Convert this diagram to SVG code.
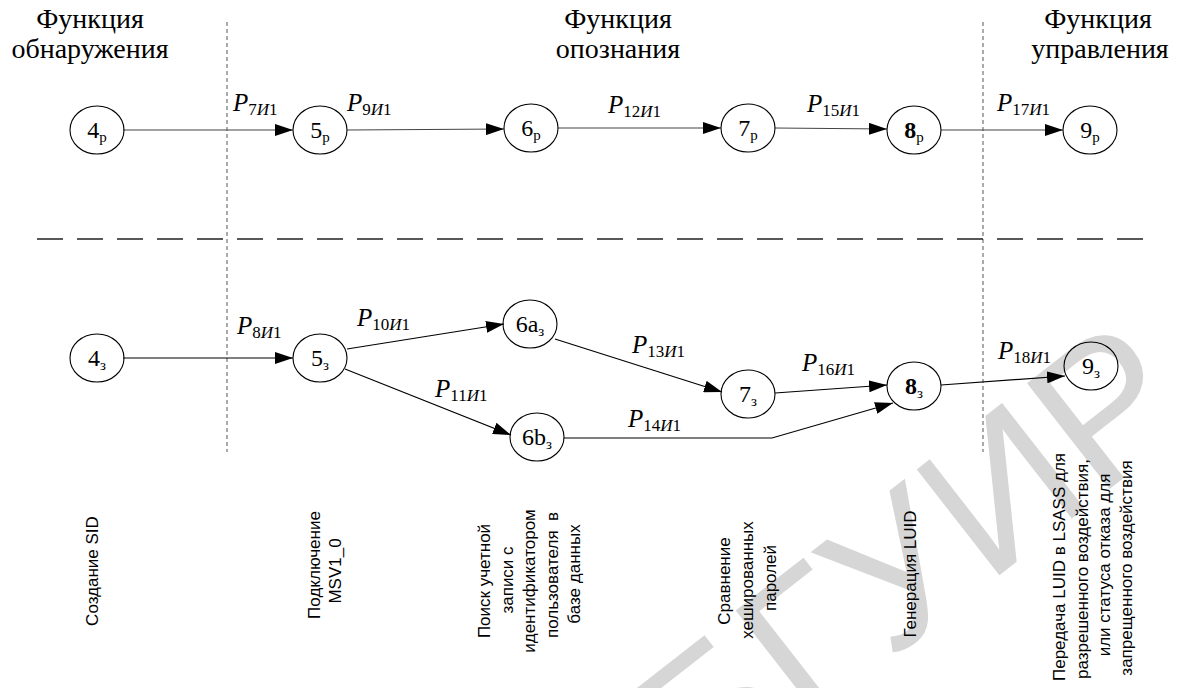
<svg xmlns="http://www.w3.org/2000/svg" width="1183" height="688" viewBox="0 0 1183 688">
  <style>
    .hdr { font-family: "Liberation Serif", "Times New Roman", serif; font-size: 28px; text-anchor: middle; fill: #000; }
    .node { fill: none; stroke: #000; stroke-width: 1.1; }
    .nlbl { font-family: "Liberation Serif", "Times New Roman", serif; font-size: 24px; text-anchor: middle; fill: #000; }
    .nsub { font-size: 15px; }
    .edge { fill: none; stroke: #000; stroke-width: 1.2; marker-end: url(#arr); }
    .edge.top { stroke: #444; }
    .plbl { font-family: "Liberation Serif", "Times New Roman", serif; font-size: 25px; fill: #000; }
    .plbl .p { font-style: italic; }
    .plbl .s { font-size: 17px; }
    .plbl .i { font-style: italic; }
    .vdash { stroke: #555; stroke-width: 1; stroke-dasharray: 4 3; }
    .hdash { stroke: #222; stroke-width: 1.5; stroke-dasharray: 26 14; }
    .step { font-family: "Liberation Sans", Arial, sans-serif; font-size: 17px; text-anchor: middle; fill: #000; }
    .wm { font-family: "Liberation Sans", Arial, sans-serif; font-size: 195px; fill: #d6d6d6; }
  </style>
  <defs>
    <marker id="arr" markerUnits="userSpaceOnUse" markerWidth="18" markerHeight="12" refX="18" refY="6" orient="auto">
      <path d="M0,0 L18,6 L0,12 z" fill="#000"/>
    </marker>
  </defs>

  <rect width="1183" height="688" fill="#fff"/>

  <!-- background stamp -->
  <text class="wm" transform="translate(705,805) rotate(-38)">БГУИР</text>

  <!-- column headers -->
  <g id="headers">
    <text class="hdr" x="90" y="28">Функция</text>
    <text class="hdr" x="90" y="58">обнаружения</text>
    <text class="hdr" x="618" y="28">Функция</text>
    <text class="hdr" x="618" y="58">опознания</text>
    <text class="hdr" x="1098" y="28">Функция</text>
    <text class="hdr" x="1100" y="58">управления</text>
  </g>

  <!-- section separators -->
  <g id="separators">
    <line class="vdash" x1="227" y1="22" x2="227" y2="452"/>
    <line class="vdash" x1="983" y1="22" x2="983" y2="452"/>
    <line class="hdash" x1="37" y1="239" x2="1152" y2="239"/>
  </g>

  <!-- connectors -->
  <g id="connectors">
    <line class="edge top" x1="123" y1="130" x2="293" y2="130"/>
    <line class="edge top" x1="347" y1="130" x2="504" y2="129"/>
    <line class="edge top" x1="558" y1="128" x2="721" y2="128"/>
    <line class="edge top" x1="775" y1="128" x2="887" y2="129"/>
    <line class="edge top" x1="941" y1="130" x2="1063" y2="130"/>

    <line class="edge" x1="123" y1="358" x2="293" y2="358"/>
    <line class="edge" x1="347" y1="349" x2="504" y2="324"/>
    <line class="edge" x1="345" y1="369" x2="511" y2="435"/>
    <line class="edge" x1="555" y1="339" x2="722" y2="392"/>
    <polyline class="edge" points="564,438 772,438 893,403"/>
    <line class="edge" x1="775" y1="393" x2="887" y2="385"/>
    <line class="edge" x1="941" y1="385" x2="1065" y2="376"/>
  </g>

  <!-- transition labels -->
  <g id="edge-labels">
    <text class="plbl" x="233" y="111"><tspan class="p">P</tspan><tspan class="s" dy="4">7<tspan class="i">И</tspan>1</tspan></text>
    <text class="plbl" x="347" y="111"><tspan class="p">P</tspan><tspan class="s" dy="4">9<tspan class="i">И</tspan>1</tspan></text>
    <text class="plbl" x="608" y="113"><tspan class="p">P</tspan><tspan class="s" dy="4">12<tspan class="i">И</tspan>1</tspan></text>
    <text class="plbl" x="807" y="112"><tspan class="p">P</tspan><tspan class="s" dy="4">15<tspan class="i">И</tspan>1</tspan></text>
    <text class="plbl" x="997" y="111"><tspan class="p">P</tspan><tspan class="s" dy="4">17<tspan class="i">И</tspan>1</tspan></text>

    <text class="plbl" x="237" y="334"><tspan class="p">P</tspan><tspan class="s" dy="4">8<tspan class="i">И</tspan>1</tspan></text>
    <text class="plbl" x="357" y="326"><tspan class="p">P</tspan><tspan class="s" dy="4">10<tspan class="i">И</tspan>1</tspan></text>
    <text class="plbl" x="435" y="397"><tspan class="p">P</tspan><tspan class="s" dy="4">11<tspan class="i">И</tspan>1</tspan></text>
    <text class="plbl" x="632" y="353"><tspan class="p">P</tspan><tspan class="s" dy="4">13<tspan class="i">И</tspan>1</tspan></text>
    <text class="plbl" x="628" y="427"><tspan class="p">P</tspan><tspan class="s" dy="4">14<tspan class="i">И</tspan>1</tspan></text>
    <text class="plbl" x="802" y="371"><tspan class="p">P</tspan><tspan class="s" dy="4">16<tspan class="i">И</tspan>1</tspan></text>
    <text class="plbl" x="998" y="359"><tspan class="p">P</tspan><tspan class="s" dy="4">18<tspan class="i">И</tspan>1</tspan></text>
  </g>

  <!-- states, top row -->
  <g id="n4p"><ellipse class="node" cx="97" cy="130" rx="27" ry="24"/><text class="nlbl" x="97" y="138">4<tspan class="nsub" dy="4">р</tspan></text></g>
  <g id="n5p"><ellipse class="node" cx="320" cy="130" rx="27" ry="24"/><text class="nlbl" x="320" y="138">5<tspan class="nsub" dy="4">р</tspan></text></g>
  <g id="n6p"><ellipse class="node" cx="531" cy="128" rx="27" ry="24"/><text class="nlbl" x="531" y="136">6<tspan class="nsub" dy="4">р</tspan></text></g>
  <g id="n7p"><ellipse class="node" cx="748" cy="128" rx="27" ry="24"/><text class="nlbl" x="748" y="136">7<tspan class="nsub" dy="4">р</tspan></text></g>
  <g id="n8p"><ellipse class="node" cx="914" cy="130" rx="27" ry="24"/><text class="nlbl" x="914" y="138"><tspan font-weight="bold">8</tspan><tspan class="nsub" dy="4">р</tspan></text></g>
  <g id="n9p"><ellipse class="node" cx="1090" cy="130" rx="27" ry="24"/><text class="nlbl" x="1090" y="138">9<tspan class="nsub" dy="4">р</tspan></text></g>

  <!-- states, bottom row -->
  <g id="n4z"><ellipse class="node" cx="97" cy="358" rx="27" ry="24"/><text class="nlbl" x="97" y="366">4<tspan class="nsub" dy="4">з</tspan></text></g>
  <g id="n5z"><ellipse class="node" cx="320" cy="358" rx="27" ry="24"/><text class="nlbl" x="320" y="366">5<tspan class="nsub" dy="4">з</tspan></text></g>
  <g id="n6az"><ellipse class="node" cx="530" cy="324" rx="27" ry="24"/><text class="nlbl" x="530" y="332">6a<tspan class="nsub" dy="4">з</tspan></text></g>
  <g id="n6bz"><ellipse class="node" cx="537" cy="437" rx="27" ry="24"/><text class="nlbl" x="537" y="445">6b<tspan class="nsub" dy="4">з</tspan></text></g>
  <g id="n7z"><ellipse class="node" cx="748" cy="394" rx="27" ry="24"/><text class="nlbl" x="748" y="402">7<tspan class="nsub" dy="4">з</tspan></text></g>
  <g id="n8z"><ellipse class="node" cx="914" cy="386" rx="27" ry="24"/><text class="nlbl" x="914" y="394"><tspan font-weight="bold">8</tspan><tspan class="nsub" dy="4">з</tspan></text></g>
  <g id="n9z"><ellipse class="node" cx="1091" cy="366" rx="27" ry="24"/><text class="nlbl" x="1091" y="374">9<tspan class="nsub" dy="4">з</tspan></text></g>

  <!-- step descriptions (vertical) -->
  <g id="steps" transform="rotate(-90)">
    <text class="step" x="-571" y="98">Создание SID</text>
    <text class="step"><tspan x="-565" y="320">Подключение</tspan><tspan x="-571" y="341">MSV1_0</tspan></text>
    <text class="step" xml:space="preserve"><tspan x="-581" y="490">Поиск учетной</tspan><tspan x="-580" y="512.5">записи с</tspan><tspan x="-581" y="535">идентификатором</tspan><tspan x="-575" y="557.5">пользователя  в</tspan><tspan x="-574" y="580">базе данных</tspan></text>
    <text class="step"><tspan x="-581" y="730">Сравнение</tspan><tspan x="-580" y="753">хешированных</tspan><tspan x="-578" y="776">паролей</tspan></text>
    <text class="step" x="-574" y="916">Генерация LUID</text>
    <text class="step"><tspan x="-567" y="1065">Передача LUID в LSASS для</tspan><tspan x="-569" y="1088">разрешенного воздействия,</tspan><tspan x="-565" y="1110">или статуса отказа для</tspan><tspan x="-568" y="1132">запрещенного воздействия</tspan></text>
  </g>
</svg>
